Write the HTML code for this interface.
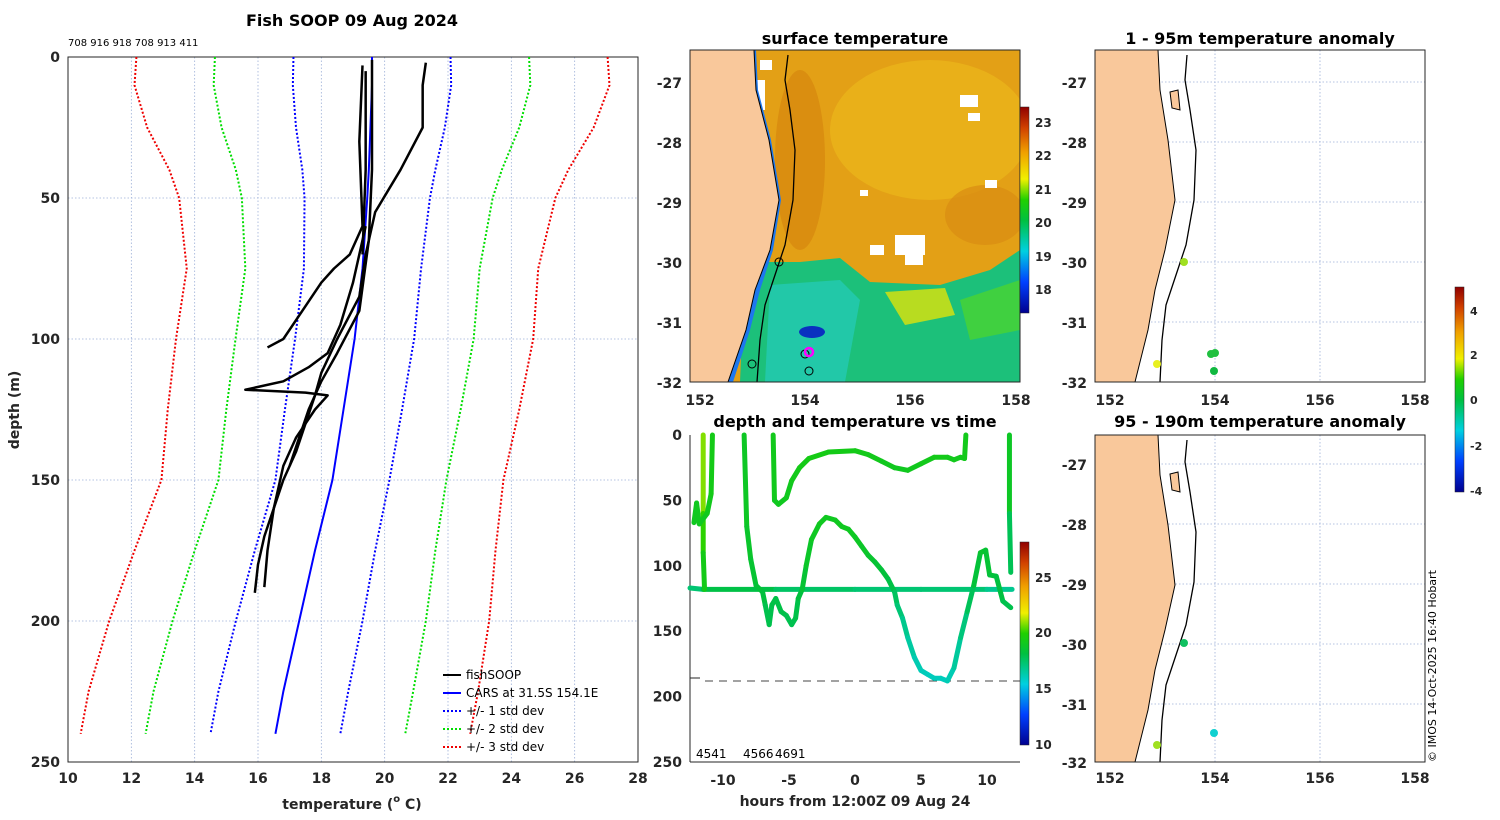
<!DOCTYPE html>
<html><head><meta charset="utf-8"><style>
body{margin:0;background:#fff;}
svg{display:block;font-family:"DejaVu Sans","Liberation Sans",sans-serif;}
.tk{font-size:14px;font-weight:bold;fill:#262626;}
.tt{font-size:16px;font-weight:bold;fill:#000;}
.gr{stroke:#9db0d8;stroke-width:0.8;stroke-dasharray:1.5 2;}
</style></head><body>
<svg id="fig" width="1500" height="820" viewBox="0 0 1500 820" xmlns="http://www.w3.org/2000/svg">
<defs>
<linearGradient id="sstcb" x1="0" y1="1" x2="0" y2="0">
<stop offset="0" stop-color="#00008f"/><stop offset="0.15" stop-color="#0040ff"/><stop offset="0.3" stop-color="#00d0e0"/><stop offset="0.45" stop-color="#00c040"/><stop offset="0.55" stop-color="#20d000"/><stop offset="0.65" stop-color="#f0f000"/><stop offset="0.78" stop-color="#f0a000"/><stop offset="0.9" stop-color="#d04000"/><stop offset="1" stop-color="#900000"/>
</linearGradient>
<clipPath id="c1"><rect x="690" y="50" width="330" height="332"/></clipPath>
<clipPath id="c2"><rect x="1095" y="50" width="330" height="332"/></clipPath>
<clipPath id="c3"><rect x="1095" y="435" width="330" height="327"/></clipPath>
</defs>

<!-- LEFT PANEL -->
<g>
<text class="tt" x="352" y="26" text-anchor="middle">Fish SOOP 09 Aug 2024</text>
<text x="68" y="46" font-size="10" fill="#000">708 916 918 708 913 411</text>
<g id="lgrid"></g>
<rect x="68" y="57" width="570" height="705" fill="none" stroke="#262626" stroke-width="1"/>
<g id="lticks"></g>
<g id="lmarks"></g>
<text class="tk" transform="translate(19,410) rotate(-90)" text-anchor="middle" font-size="15">depth (m)</text>
<text class="tk" x="352" y="809" text-anchor="middle" font-size="15">temperature (<tspan font-size="10" dy="-7">o</tspan><tspan dy="7"> C)</tspan></text>
<g font-size="12" fill="#000">
<line x1="443" y1="675" x2="461" y2="675" stroke="#000" stroke-width="2"/><text x="466" y="679">fishSOOP</text>
<line x1="443" y1="693" x2="461" y2="693" stroke="#0000ff" stroke-width="2"/><text x="466" y="697">CARS at 31.5S 154.1E</text>
<line x1="443" y1="711" x2="461" y2="711" stroke="#0000ff" stroke-width="2" stroke-dasharray="2 2"/><text x="466" y="715">+/- 1 std dev</text>
<line x1="443" y1="729" x2="461" y2="729" stroke="#00dd00" stroke-width="2" stroke-dasharray="2 2"/><text x="466" y="733">+/- 2 std dev</text>
<line x1="443" y1="747" x2="461" y2="747" stroke="#ee0000" stroke-width="2" stroke-dasharray="2 2"/><text x="466" y="751">+/- 3 std dev</text>
</g>
</g>

<!-- SST MAP -->
<g>
<text class="tt" x="855" y="44" text-anchor="middle">surface temperature</text>
<g clip-path="url(#c1)">
<rect x="690" y="50" width="330" height="332" fill="#e3a016"/>
<ellipse cx="930" cy="130" rx="100" ry="70" fill="#eab41a" opacity="0.8"/>
<ellipse cx="800" cy="160" rx="25" ry="90" fill="#d6860e" opacity="0.7"/>
<ellipse cx="985" cy="215" rx="40" ry="30" fill="#d98c12" opacity="0.7"/>
<polygon points="745,262 800,262 840,258 870,282 940,285 990,270 1020,250 1020,382 740,382" fill="#1cc07a"/>
<polygon points="770,285 840,280 860,300 845,382 765,382" fill="#22c8a8"/>
<polygon points="885,292 945,288 955,315 905,325" fill="#b8dc20"/>
<polygon points="960,300 1020,280 1020,330 970,340" fill="#40d040"/>
<ellipse cx="812" cy="332" rx="13" ry="6" fill="#0a30c0"/>
<g fill="#ffffff">
<rect x="895" y="235" width="30" height="20"/><rect x="870" y="245" width="14" height="10"/><rect x="905" y="255" width="18" height="10"/>
<rect x="960" y="95" width="18" height="12"/><rect x="968" y="113" width="12" height="8"/>
<rect x="755" y="80" width="10" height="30"/><rect x="760" y="60" width="12" height="10"/>
<rect x="985" y="180" width="12" height="8"/><rect x="860" y="190" width="8" height="6"/>
</g>
<polygon points="733,382 750,330 760,290 773,250 781,200 771,140 758,90 756,50 690,50 690,382" fill="#1e78ee"/>
<polygon points="728,382 746,330 755,290 770,250 779,200 769,140 756,90 754,50 690,50 690,382" fill="#f9c89b" stroke="#000" stroke-width="1"/>
<polyline points="788,55 785,80 790,110 795,150 793,200 785,245 775,275 765,305 760,340 757,382" fill="none" stroke="#000" stroke-width="1.3"/>
<circle cx="779" cy="262" r="4" fill="none" stroke="#000"/>
<circle cx="752" cy="364" r="4" fill="none" stroke="#000"/>
<circle cx="805" cy="354" r="4" fill="none" stroke="#000"/>
<circle cx="809" cy="371" r="4" fill="none" stroke="#000"/>
<circle cx="809" cy="352" r="4" fill="none" stroke="#ff00ff" stroke-width="2.5"/>
</g>
<rect x="690" y="50" width="330" height="332" fill="none" stroke="#262626"/>
<rect x="1020" y="107" width="9" height="206" fill="url(#sstcb)" stroke="#262626" stroke-width="0.5"/>
<g font-size="12" font-weight="bold" fill="#262626">
<text x="1035" y="127">23</text><text x="1035" y="160">22</text><text x="1035" y="194">21</text><text x="1035" y="227">20</text><text x="1035" y="261">19</text><text x="1035" y="294">18</text>
</g>
<g class="tk" text-anchor="end">
<text x="682" y="88">-27</text><text x="682" y="148">-28</text><text x="682" y="208">-29</text><text x="682" y="268">-30</text><text x="682" y="328">-31</text><text x="682" y="388">-32</text>
</g>
<g class="tk" text-anchor="middle">
<text x="700" y="405">152</text><text x="805" y="405">154</text><text x="910" y="405">156</text><text x="1016" y="405">158</text>
</g>
</g>

<!-- TIME PANEL -->
<g>
<text class="tt" x="855" y="427" text-anchor="middle">depth and temperature vs time</text>
<line x1="690" y1="435" x2="690" y2="762" stroke="#262626"/>
<line x1="690" y1="762" x2="1020" y2="762" stroke="#262626"/>
<line x1="690" y1="678" x2="700" y2="678" stroke="#262626"/>
<g id="tticks"></g>
<line x1="705" y1="681" x2="1020" y2="681" stroke="#444" stroke-dasharray="8 6"/>
<g id="tmarks"></g>
<g font-size="12" fill="#000"><text x="696" y="758">4541</text><text x="743" y="758">4566</text><text x="775" y="758">4691</text></g>
<rect x="1020" y="542" width="9" height="203" fill="url(#sstcb)" stroke="#262626" stroke-width="0.5"/>
<g font-size="12" font-weight="bold" fill="#262626">
<text x="1035" y="582">25</text><text x="1035" y="637">20</text><text x="1035" y="693">15</text><text x="1035" y="749">10</text>
</g>
<text class="tk" x="855" y="806" text-anchor="middle" font-size="15">hours from 12:00Z 09 Aug 24</text>
</g>

<!-- ANOMALY MAPS -->
<g>
<text class="tt" x="1260" y="44" text-anchor="middle">1 - 95m temperature anomaly</text>
<g clip-path="url(#c2)">
<g id="gtop"></g>
<polygon points="1135,382 1148,330 1155,290 1165,250 1175,200 1168,140 1160,90 1158,50 1095,50 1095,382" fill="#f9c89b" stroke="#000" stroke-width="1"/>
<polygon points="1170,92 1178,90 1180,110 1172,108" fill="#f9c89b" stroke="#000"/>
<polyline points="1187,55 1185,80 1190,110 1196,150 1194,200 1186,245 1176,275 1166,305 1162,340 1160,382" fill="none" stroke="#000" stroke-width="1.3"/>
<circle cx="1184" cy="262" r="4" fill="#a0e020"/>
<circle cx="1211" cy="354" r="4" fill="#20c040"/><circle cx="1215" cy="353" r="4" fill="#20c040"/>
<circle cx="1214" cy="371" r="4" fill="#10b840"/>
<circle cx="1157" cy="364" r="4" fill="#e8f020"/>
</g>
<rect x="1095" y="50" width="330" height="332" fill="none" stroke="#262626"/>
<g class="tk" text-anchor="end"><text x="1087" y="88">-27</text><text x="1087" y="148">-28</text><text x="1087" y="208">-29</text><text x="1087" y="268">-30</text><text x="1087" y="328">-31</text><text x="1087" y="388">-32</text></g>
<g class="tk" text-anchor="middle"><text x="1110" y="405">152</text><text x="1215" y="405">154</text><text x="1320" y="405">156</text><text x="1415" y="405">158</text></g>
</g>
<g>
<text class="tt" x="1260" y="427" text-anchor="middle">95 - 190m temperature anomaly</text>
<g clip-path="url(#c3)">
<g id="gbot"></g>
<polygon points="1135,762 1148,710 1155,670 1165,630 1175,585 1168,525 1160,475 1158,435 1095,435 1095,762" fill="#f9c89b" stroke="#000" stroke-width="1"/>
<polygon points="1170,474 1178,472 1180,492 1172,490" fill="#f9c89b" stroke="#000"/>
<polyline points="1187,440 1185,462 1190,492 1196,532 1194,582 1186,625 1176,655 1166,685 1162,720 1160,762" fill="none" stroke="#000" stroke-width="1.3"/>
<circle cx="1184" cy="643" r="4" fill="#10c060"/>
<circle cx="1214" cy="733" r="4" fill="#10d0d0"/>
<circle cx="1157" cy="745" r="4" fill="#a0e020"/>
</g>
<rect x="1095" y="435" width="330" height="327" fill="none" stroke="#262626"/>
<g class="tk" text-anchor="end"><text x="1087" y="470">-27</text><text x="1087" y="530">-28</text><text x="1087" y="590">-29</text><text x="1087" y="650">-30</text><text x="1087" y="710">-31</text><text x="1087" y="768">-32</text></g>
<g class="tk" text-anchor="middle"><text x="1110" y="783">152</text><text x="1215" y="783">154</text><text x="1320" y="783">156</text><text x="1415" y="783">158</text></g>
</g>
<rect x="1455" y="287" width="9" height="205" fill="url(#sstcb)" stroke="#262626" stroke-width="0.5"/>
<g font-size="11" font-weight="bold" fill="#262626"><text x="1470" y="315">4</text><text x="1470" y="359">2</text><text x="1470" y="404">0</text><text x="1470" y="450">-2</text><text x="1470" y="495">-4</text></g>
<text transform="translate(1436,762) rotate(-90)" font-size="11" fill="#000">© IMOS 14-Oct-2025 16:40 Hobart</text>
</svg>
<script>
const depths=[0,10,25,40,50,75,100,125,150,175,200,225,240];
const carsMean=[19.6,19.6,19.55,19.5,19.45,19.3,19.05,18.7,18.35,17.8,17.3,16.8,16.55];
const carsStd=[2.48,2.5,2.35,2.1,1.98,1.85,1.88,1.85,1.8,1.9,2.0,2.05,2.05];
const tempTicks=[10,12,14,16,18,20,22,24,26,28];
const depthTicks=[0,50,100,150,200,250];
const fishA=[[19.3,3],[19.2,30],[19.3,60],[18.9,70],[18.4,75],[18,80],[17.4,90],[16.8,100],[16.3,103]];
const fishB=[[19.6,1],[19.6,40],[19.5,65],[19.2,90],[18.5,105],[18,115],[17.6,125],[17.3,135],[17,145]];
const fishC=[[21.3,2],[21.2,10],[21.2,25],[20.5,40],[19.7,55],[19.4,70],[19.2,85],[18.5,100],[18,112],[17.8,120],[17.5,130],[17.2,140],[16.8,150],[16.5,160],[16.2,170],[16,180],[15.9,190]];
const fishD=[[19.4,60],[19,80],[18.6,95],[18.2,105],[17.6,110],[16.8,115],[15.6,118],[17.5,119],[18.2,120],[17.8,125],[17.2,135],[16.8,145],[16.5,160],[16.3,175],[16.2,188]];
const fishE=[[19.4,5],[19.4,40],[19.3,70]];
const hourTicks=[-10,-5,0,5,10];
const trackFlat=[[-12.5,117,16.5],[-11.5,118,18],[-6,118,18],[0,118,17],[5,118,17.5],[10,118,17],[11.9,118,16.5]];
const trackY=[[-11.5,0,21],[-11.5,60,20.5],[-11.5,90,19.5],[-11.4,118,19]];
const trackA=[[-12.2,67,19],[-12,52,19],[-11.8,68,19],[-11.2,60,19],[-10.9,45,19.2],[-10.8,0,19.3]];
const trackB=[[-8.4,0,19],[-8.2,70,18.8],[-7.9,95,18.6],[-7.5,115,18.4],[-7,120,18.3],[-6.8,130,18],[-6.5,145,17.8],[-6.3,130,18],[-6,125,18],[-5.6,135,18],[-5.2,138,17.9],[-4.8,145,17.8],[-4.5,140,17.9],[-4.3,125,18],[-4,118,18.3],[-3.7,100,18.6],[-3.3,80,18.9],[-2.7,68,19],[-2.2,63,19],[-1.5,65,19],[-1,70,19],[-0.5,72,19],[0,78,18.9],[0.5,85,18.8],[1,92,18.7],[1.5,97,18.5],[2,103,18.3],[2.5,110,18.2],[3,120,17.8],[3.2,130,17.4],[3.6,140,17],[4,155,16.6],[4.5,170,16.3],[5,180,16.1],[5.5,183,16],[6,186,16],[6.5,186,16],[7,188,16],[7.5,178,16.3],[8,155,16.8],[8.5,135,17.4],[9,115,18],[9.5,90,18.6],[9.9,88,18.6],[10.2,107,18.3],[10.7,108,18.2],[11.2,127,18],[11.8,132,17.8]];
const trackC=[[-6.2,0,19.2],[-6.1,50,19],[-5.8,53,19],[-5.2,48,19],[-4.8,35,19.1],[-4.2,25,19.2],[-3.5,18,19.3],[-2,13,19.3],[0,12,19.2],[1,15,19.2],[2,20,19.1],[3,25,19],[4,27,19],[5,22,19.1],[6,17,19.2],[7,17,19.2],[7.5,19,19.1],[8,17,19.1],[8.3,18,19.1],[8.4,0,19.2]];
const trackD=[[11.7,0,19.2],[11.7,60,18.5],[11.8,105,17]];

const NS='http://www.w3.org/2000/svg';
const tx=t=>68+(t-10)*570/18, dy=d=>57+d*705/250;
const hx=h=>855+h*13.2, hy=d=>435+d*327/250;
function mk(tag,parent,attrs){const e=document.createElementNS(NS,tag);for(const k in attrs)e.setAttribute(k,attrs[k]);parent.appendChild(e);return e;}
function cmap(v){const st=[[0,[0,0,143]],[0.15,[0,64,255]],[0.3,[0,208,224]],[0.45,[0,192,64]],[0.55,[32,208,0]],[0.65,[240,240,0]],[0.78,[240,160,0]],[0.9,[208,64,0]],[1,[144,0,0]]];
 v=Math.max(0,Math.min(1,v));for(let i=1;i<st.length;i++){if(v<=st[i][0]){const f=(v-st[i-1][0])/(st[i][0]-st[i-1][0]);const a=st[i-1][1],b=st[i][1];return 'rgb('+a.map((c,j)=>Math.round(c+(b[j]-c)*f)).join(',')+')';}}return 'rgb(144,0,0)';}

const lg=document.getElementById('lgrid'),lt=document.getElementById('lticks'),lm=document.getElementById('lmarks');
tempTicks.forEach(t=>{
 const g=mk('line',lg,{x1:tx(t),y1:57,x2:tx(t),y2:762,class:'gr'});
 
 
 const l=mk('text',lt,{x:tx(t),y:783,class:'tk','text-anchor':'middle'});l.textContent=t;
 
 
});
depthTicks.forEach(d=>{
 const g=mk('line',lg,{x1:68,y1:dy(d),x2:638,y2:dy(d),class:'gr'});
 
 
 const l=mk('text',lt,{x:60,y:dy(d)+5,class:'tk','text-anchor':'end'});l.textContent=d;
 
 
});
const sds=[[3,'#ee0000'],[2,'#00dd00'],[1,'#0000ff']];
sds.forEach(([k,c])=>{[-1,1].forEach(s=>{
 const p=mk('polyline',lm,{points:depths.map((d,i)=>tx(carsMean[i]+s*k*carsStd[i])+','+dy(d)).join(' '),fill:'none',stroke:c,'stroke-width':2,'stroke-dasharray':'2 2'});
 
 
});});
const cars=mk('polyline',lm,{points:depths.map((d,i)=>tx(carsMean[i])+','+dy(d)).join(' '),fill:'none',stroke:'#0000ff','stroke-width':2});


[fishA,fishB,fishC,fishD,fishE].forEach(tr=>{
 const p=mk('polyline',lm,{points:tr.map(q=>tx(q[0])+','+dy(q[1])).join(' '),fill:'none',stroke:'#000','stroke-width':2.5,'stroke-linejoin':'round'});
 
 
});

const tt=document.getElementById('tticks'),tm=document.getElementById('tmarks');
hourTicks.forEach(h=>{
 const l=mk('text',tt,{x:hx(h),y:785,class:'tk','text-anchor':'middle'});l.textContent=h;
 
 
});
depthTicks.forEach(d=>{
 const l=mk('text',tt,{x:682,y:hy(d)+5,class:'tk','text-anchor':'end'});l.textContent=d;
 
 
});
[trackFlat,trackY,trackA,trackB,trackC,trackD].forEach(tr=>{
 for(let i=1;i<tr.length;i++){
  const a=tr[i-1],b=tr[i];
  const s=mk('line',tm,{x1:hx(a[0]),y1:hy(a[1]),x2:hx(b[0]),y2:hy(b[1]),stroke:cmap(((a[2]+b[2])/2-10)/18),'stroke-width':5,'stroke-linecap':'round'});
  
  
 }
});

[['gtop',50,382,[82,142,202,262,322]],['gbot',435,762,[464,524,584,644,704]]].forEach(([id,y0,y1,ys])=>{
 const g=document.getElementById(id);
 [1110,1215,1320,1425].forEach(x=>{const e=mk('line',g,{x1:x,y1:y0,x2:x,y2:y1,class:'gr'});
  
  });
 ys.forEach(y=>{const e=mk('line',g,{x1:1095,y1:y,x2:1425,y2:y,class:'gr'});
  
  });
});
</script>
</body></html>
